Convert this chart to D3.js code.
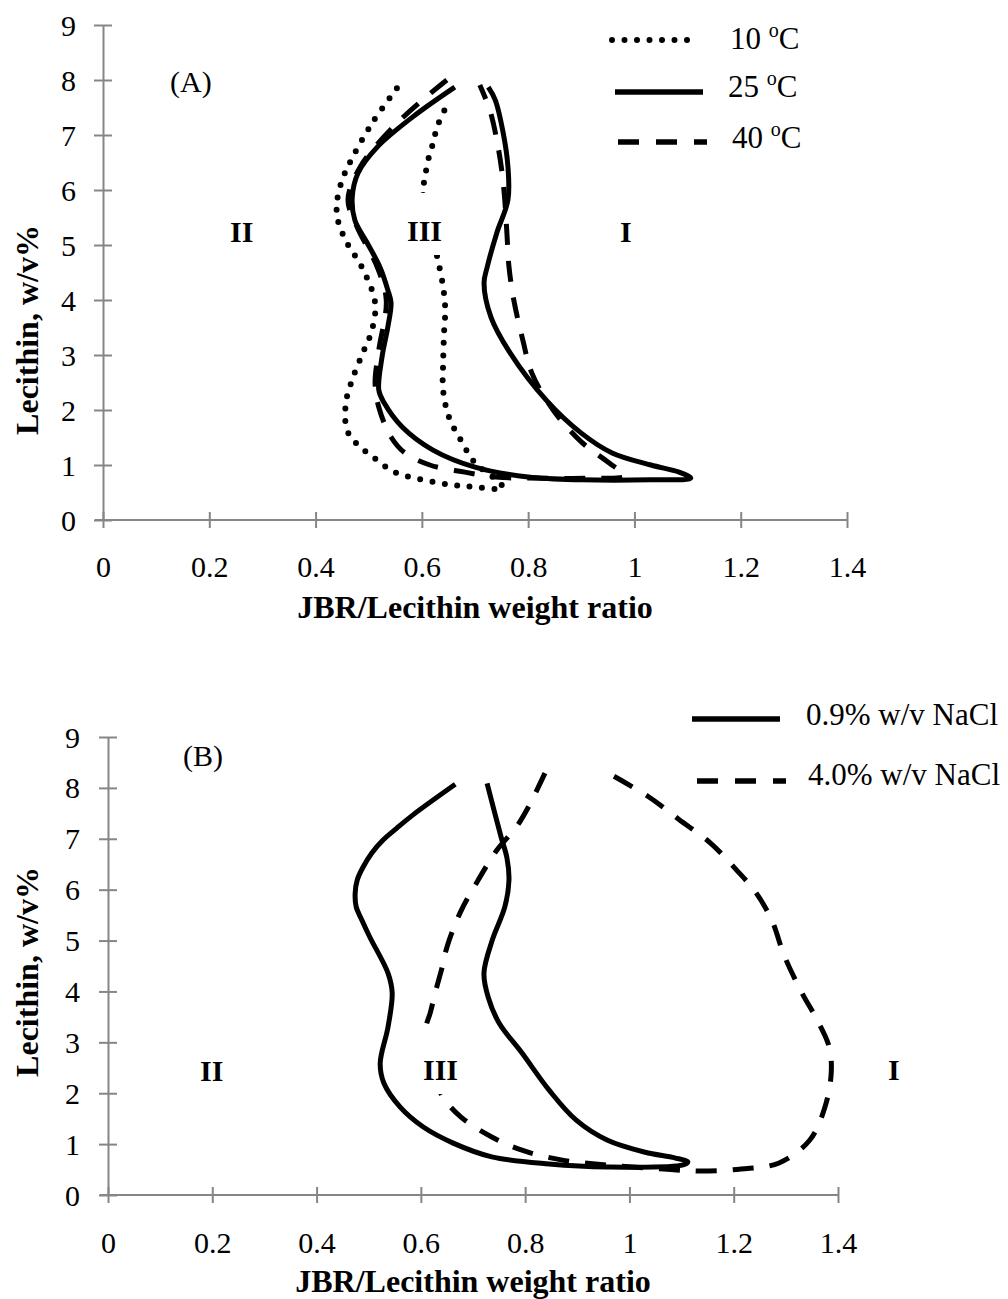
<!DOCTYPE html>
<html>
<head>
<meta charset="utf-8">
<script src="https://cdn.jsdelivr.net/npm/d3@7"></script>
<style>
  body { margin: 0; background: #fff; }
  svg { display: block; }
  text { font-family: 'Liberation Serif', 'Times New Roman', serif; fill: #000; }
</style>
</head>
<body>
<svg id="chart" width="1008" height="1299"></svg>
<script>
// x tick labels / y tick labels
const xTicks = [0, 0.2, 0.4, 0.6, 0.8, 1, 1.2, 1.4];
const yTicks = [0, 1, 2, 3, 4, 5, 6, 7, 8, 9];

// Panel A: phase boundaries at three temperatures, [JBR/lecithin ratio, lecithin w/v%]
const tempLabels = ['10', '25', '40'];
const a10 = [
  [0.553, 7.85], [0.508, 7.24], [0.470, 6.60], [0.450, 6.18], [0.440, 5.76],
  [0.442, 5.45], [0.459, 5.04], [0.487, 4.60], [0.512, 3.95], [0.506, 3.45],
  [0.489, 3.04], [0.470, 2.58], [0.457, 2.13], [0.459, 1.64], [0.476, 1.40],
  [0.510, 1.13], [0.549, 0.87], [0.602, 0.73], [0.655, 0.64], [0.700, 0.60],
  [0.753, 0.58], [0.740, 0.73], [0.700, 1.04], [0.674, 1.44], [0.651, 1.87],
  [0.640, 2.36], [0.640, 2.84], [0.642, 3.45], [0.644, 3.82], [0.640, 4.24],
  [0.629, 4.78], [0.615, 5.36], [0.602, 5.95], [0.606, 6.24], [0.612, 6.55],
  [0.621, 6.85], [0.629, 7.15], [0.649, 7.58]
];
const a25 = [
  [0.662, 7.87], [0.583, 7.33], [0.516, 6.78], [0.480, 6.31], [0.469, 5.87],
  [0.474, 5.45], [0.497, 5.04], [0.521, 4.60], [0.536, 4.18], [0.542, 3.95],
  [0.536, 3.51], [0.525, 2.96], [0.519, 2.36], [0.529, 2.13], [0.563, 1.69],
  [0.621, 1.27], [0.700, 0.96], [0.800, 0.78], [0.900, 0.73], [1.031, 0.73],
  [1.106, 0.76], [1.084, 0.87], [1.031, 1.00], [0.958, 1.22], [0.900, 1.58],
  [0.834, 2.18], [0.766, 3.04], [0.730, 3.69], [0.717, 4.31], [0.723, 4.60],
  [0.741, 5.22], [0.762, 5.82], [0.762, 6.42], [0.753, 7.04], [0.738, 7.64],
  [0.725, 7.87]
];
const a40 = [
  [0.647, 8.00], [0.559, 7.27], [0.484, 6.42], [0.461, 5.82], [0.478, 5.33],
  [0.516, 4.60], [0.533, 4.00], [0.519, 3.09], [0.512, 2.49], [0.519, 2.05],
  [0.542, 1.51], [0.568, 1.22], [0.615, 1.00], [0.681, 0.87], [0.740, 0.78],
  [0.834, 0.76], [0.913, 0.76], [0.982, 0.80], [0.952, 1.04], [0.900, 1.42],
  [0.847, 2.00], [0.807, 2.67], [0.790, 3.27], [0.773, 4.00], [0.764, 4.60],
  [0.760, 5.22], [0.756, 5.82], [0.751, 6.31], [0.741, 6.91], [0.728, 7.45],
  [0.709, 7.91]
];

// Panel B: phase boundaries at two NaCl levels
const saltLabels = ['0.9% w/v NaCl', '4.0% w/v NaCl'];
const b09 = [
  [0.666, 8.07], [0.585, 7.47], [0.554, 7.21], [0.527, 6.97], [0.506, 6.72],
  [0.489, 6.44], [0.478, 6.19], [0.474, 5.93], [0.476, 5.66], [0.487, 5.40],
  [0.502, 5.07], [0.537, 4.36], [0.545, 3.97], [0.537, 3.30],
  [0.522, 2.59], [0.529, 2.20], [0.560, 1.73], [0.604, 1.34], [0.662, 1.02],
  [0.736, 0.75], [0.846, 0.61], [0.957, 0.55], [1.103, 0.59], [1.112, 0.65],
  [1.087, 0.73], [1.030, 0.84], [0.957, 1.08], [0.898, 1.47], [0.846, 2.06],
  [0.794, 2.79], [0.750, 3.38], [0.729, 3.89], [0.721, 4.36], [0.737, 5.01],
  [0.761, 5.66], [0.769, 6.19], [0.765, 6.63], [0.754, 7.03], [0.727, 8.09]
];
const b40 = [
  [0.838, 8.29], [0.806, 7.62], [0.783, 7.23], [0.746, 6.78], [0.710, 6.19],
  [0.675, 5.54], [0.650, 4.87], [0.641, 4.48], [0.629, 4.03], [0.618, 3.58],
  [0.610, 3.30], [0.614, 2.61], [0.641, 1.95], [0.677, 1.53], [0.736, 1.14],
  [0.794, 0.88], [0.869, 0.69], [0.957, 0.59], [1.066, 0.51], [1.139, 0.47],
  [1.214, 0.51], [1.287, 0.63], [1.346, 1.08], [1.375, 1.73], [1.387, 2.40],
  [1.383, 2.91], [1.360, 3.44], [1.331, 3.97], [1.297, 4.70], [1.273, 5.40],
  [1.242, 5.95], [1.206, 6.38], [1.155, 6.92], [1.095, 7.38], [1.036, 7.83],
  [0.965, 8.26]
];

// Style values
const axisColor = '#868686';
const lineWidth = 5;
const dotWidth = 6;
const dotted = '0,12.5';
const dashed = '21,16';
const fontSize = 30;
const titleSize = 32;

const svg = d3.select('#chart');

function drawAxes(g, x, y, o) {
  const xAxis = g.append('g')
    .attr('transform', `translate(0,${y(0)})`)
    .call(d3.axisBottom(x).tickValues(xTicks).tickFormat(d3.format('')).tickSize(0).tickPadding(0));
  const yAxis = g.append('g')
    .attr('transform', `translate(${x(0)},0)`)
    .call(d3.axisLeft(y).tickValues(yTicks).tickSize(0).tickPadding(0));

  [xAxis, yAxis].forEach((a) => {
    a.select('.domain').attr('stroke', axisColor).attr('stroke-width', 2);
    a.selectAll('.tick line').attr('stroke', axisColor).attr('stroke-width', 2);
    a.selectAll('.tick text')
      .attr('font-size', fontSize)
      .attr('font-family', "'Liberation Serif', serif")
      .attr('fill', '#000');
  });
  xAxis.selectAll('.tick line').attr('y1', -8).attr('y2', 8);
  xAxis.selectAll('.tick text').attr('dy', null).attr('y', o.xLabelY);
  xAxis.select('.domain').attr('d', `M${x(0) - 8},0H${x(1.4)}`);

  yAxis.selectAll('.tick line').attr('x1', -9).attr('x2', 9);
  yAxis.selectAll('.tick text').attr('dy', null).attr('x', o.yLabelX).attr('y', 10);

  g.append('text')
    .attr('x', (x(0) + x(1.4)) / 2)
    .attr('y', o.xTitleY)
    .attr('text-anchor', 'middle')
    .attr('font-weight', 'bold')
    .attr('font-size', titleSize)
    .text('JBR/Lecithin weight ratio');

  g.append('text')
    .attr('transform', `translate(${o.yTitleX},${o.yTitleY}) rotate(-90)`)
    .attr('text-anchor', 'middle')
    .attr('font-weight', 'bold')
    .attr('font-size', titleSize)
    .text('Lecithin, w/v%');
}

function drawCurve(g, x, y, pts, dash) {
  const line = d3.line()
    .x((d) => x(d[0]))
    .y((d) => y(d[1]))
    .curve(d3.curveCatmullRom.alpha(0.5));
  g.append('path')
    .datum(pts)
    .attr('d', line)
    .attr('fill', 'none')
    .attr('stroke', '#000')
    .attr('stroke-width', dash === dotted ? dotWidth : lineWidth)
    .attr('stroke-linecap', dash === dotted ? 'round' : 'butt')
    .attr('stroke-dasharray', dash);
}

// Region labels sit on white text boxes that cover the curves
function regionLabel(g, px, py, label, boxed) {
  const t = g.append('text')
    .attr('x', px)
    .attr('y', py)
    .attr('font-weight', 'bold')
    .attr('font-size', fontSize)
    .text(label);
  if (boxed) {
    const w = t.node().getComputedTextLength();
    g.insert('rect', function () { return t.node(); })
      .attr('x', px - 10)
      .attr('y', py - 48)
      .attr('width', w + 20)
      .attr('height', 62)
      .attr('fill', '#fff');
  }
}

function legendRow(g, x1, x2, ly, dash, tx, ty, label, degree) {
  g.append('line')
    .attr('x1', x1).attr('x2', x2)
    .attr('y1', ly).attr('y2', ly)
    .attr('stroke', '#000')
    .attr('stroke-width', dash === dotted ? dotWidth : 5.5)
    .attr('stroke-linecap', dash === dotted ? 'round' : 'butt')
    .attr('stroke-dasharray', dash);
  const t = g.append('text').attr('x', tx).attr('y', ty).attr('font-size', 31);
  if (degree) {
    t.append('tspan').text(label + ' ');
    t.append('tspan').attr('font-size', 20).attr('dy', -12).text('o');
    t.append('tspan').attr('dy', 12).text('C');
  } else {
    t.text(label);
  }
}

// ---- Panel A ----
const xA = d3.scaleLinear().domain([0, 1.4]).range([103, 847]);
const yA = d3.scaleLinear().domain([0, 9]).range([520, 25]);
const gA = svg.append('g');
drawAxes(gA, xA, yA, { xLabelY: 57, yLabelX: -27, xTitleY: 618, yTitleX: 38, yTitleY: 330 });
drawCurve(gA, xA, yA, a10, dotted);
drawCurve(gA, xA, yA, a25, null);
drawCurve(gA, xA, yA, a40, dashed);

gA.append('text').attr('x', 170).attr('y', 92).attr('font-size', fontSize).text('(A)');
regionLabel(gA, 230, 242, 'II', false);
regionLabel(gA, 407, 241, 'III', true);
regionLabel(gA, 620, 242, 'I', false);

legendRow(gA, 612, 693, 40, dotted, 730, 49, tempLabels[0], true);
legendRow(gA, 615, 703, 92, null, 728, 97, tempLabels[1], true);
legendRow(gA, 618, 707, 142, '21,17', 732, 148, tempLabels[2], true);

// ---- Panel B ----
const xB = d3.scaleLinear().domain([0, 1.4]).range([108, 838]);
const yB = d3.scaleLinear().domain([0, 9]).range([1195, 737]);
const gB = svg.append('g');
drawAxes(gB, xB, yB, { xLabelY: 58, yLabelX: -28, xTitleY: 1292, yTitleX: 38, yTitleY: 972 });
drawCurve(gB, xB, yB, b09, null);
drawCurve(gB, xB, yB, b40, dashed);

gB.append('text').attr('x', 183).attr('y', 766).attr('font-size', fontSize).text('(B)');
regionLabel(gB, 200, 1081, 'II', false);
regionLabel(gB, 423, 1080, 'III', true);
regionLabel(gB, 888, 1080, 'I', false);

legendRow(gB, 692, 780, 719, null, 806, 725, saltLabels[0], false);
legendRow(gB, 697, 786, 781, '21,17', 808, 785, saltLabels[1], false);
</script>
</body>
</html>
